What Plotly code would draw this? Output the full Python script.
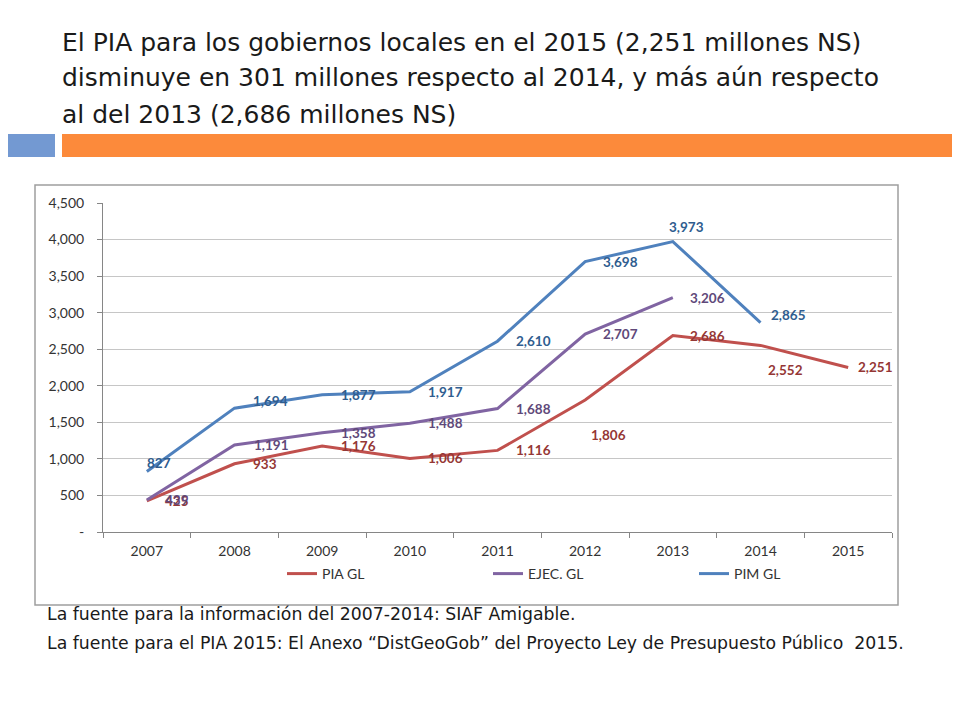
import plotly.graph_objects as go

# data
years = ['2007', '2008', '2009', '2010', '2011', '2012', '2013', '2014', '2015']
pia_gl = [425, 933, 1176, 1006, 1116, 1806, 2686, 2552, 2251]
ejec_gl = [439, 1191, 1358, 1488, 1688, 2707, 3206, None, None]
pim_gl = [827, 1694, 1877, 1917, 2610, 3698, 3973, 2865, None]
y_ticks = [0, 500, 1000, 1500, 2000, 2500, 3000, 3500, 4000, 4500]
y_tick_text = ['-', '500', '1,000', '1,500', '2,000', '2,500', '3,000', '3,500', '4,000', '4,500']

title_lines = [
    'El PIA para los gobiernos locales en el 2015 (2,251 millones NS)',
    'disminuye en 301 millones respecto al 2014, y más aún respecto',
    'al del 2013 (2,686 millones NS)',
]
notes = [
    'La fuente para la información del 2007-2014: SIAF Amigable.',
    'La fuente para el PIA 2015: El Anexo “DistGeoGob” del Proyecto Ley de Presupuesto Público  2015.',
]

# the page puts the figure 8px in from the top-left corner
OFF = 8
W, H = 960 - OFF, 720 - OFF
L, R, T, B = 103 - OFF, 892 - OFF, 203 - OFF, 532 - OFF   # plot area in figure pixels


def px(x):
    # screen x -> paper coordinate
    return (x - OFF - L) / (R - L)


def py(y):
    return (B - (y - OFF)) / (B - T)


# label nudges (xshift, yshift) in pixels, like the hand-placed Excel labels
pia_nudge = [(30, 0), (30, 0), (36, 0), (36, 0), (36, 0), (23, -35), (35, 0), (25, -25), (27, 0)]
ejec_nudge = [(30, 0), (36, 0), (36, 0), (36, 0), (36, 0), (35, 0), (35, 0), None, None]
pim_nudge = [(12, 9), (36, 7), (36, 0), (36, 0), (36, 0), (35, 0), (14, 15), (28, 8), None]

series = [
    ('PIA GL', pia_gl, '#C0504D', '#953735', pia_nudge),
    ('EJEC. GL', ejec_gl, '#8064A2', '#5F497A', ejec_nudge),
    ('PIM GL', pim_gl, '#4F81BD', '#2F5D8F', pim_nudge),
]

fig = go.Figure()
annotations = []
for name, vals, color, lab_color, nudge in series:
    fig.add_trace(go.Scatter(x=years, y=vals, name=name, mode='lines',
                             line=dict(color=color, width=3)))
for name, vals, color, lab_color, nudge in series:
    for i, (v, nd) in enumerate(zip(vals, nudge)):
        if v is None:
            continue
        # category index as x so the label sits on its year
        annotations.append(dict(x=i, y=v, text=f'{v:,}', showarrow=False,
                                xshift=nd[0], yshift=nd[1],
                                font=dict(family='Lato', size=13.5, color=lab_color, weight='bold')))

for i, line in enumerate(title_lines):
    annotations.append(dict(xref='paper', yref='paper', x=px(60), y=py(42 + 36 * i),
                            xanchor='left', yanchor='middle', showarrow=False, text=line,
                            font=dict(family='DejaVu Sans', size=25, color='#1a1a1a')))
for i, line in enumerate(notes):
    annotations.append(dict(xref='paper', yref='paper', x=px(45), y=py(614 + 29 * i),
                            xanchor='left', yanchor='middle', showarrow=False, text=line,
                            font=dict(family='DejaVu Sans', size=17.3, color='#1a1a1a')))

shapes = [
    dict(type='rect', xref='paper', yref='paper', x0=px(OFF), x1=px(55), y0=py(134), y1=py(157),
         fillcolor='#7399D2', line=dict(width=0), layer='below'),
    dict(type='rect', xref='paper', yref='paper', x0=px(62), x1=px(960), y0=py(134), y1=py(157),
         fillcolor='#FC8A3B', line=dict(width=0), layer='below'),
    dict(type='rect', xref='paper', yref='paper', x0=px(35), x1=px(898), y0=py(185), y1=py(605),
         fillcolor='rgba(0,0,0,0)', line=dict(color='#9E9E9E', width=1.5), layer='below'),
]

fig.update_layout(
    width=W, height=H,
    margin=dict(l=L, r=W - R, t=T, b=H - B, pad=0),
    paper_bgcolor='white', plot_bgcolor='white',
    font=dict(family='Lato', size=14, color='#333333'),
    showlegend=True,
    legend=dict(orientation='h', x=px(282), y=py(574), xanchor='left', yanchor='middle',
                bgcolor='rgba(0,0,0,0)', entrywidth=161, entrywidthmode='pixels',
                font=dict(size=14, color='#333333')),
    annotations=annotations,
    shapes=shapes,
)
fig.update_xaxes(type='category', range=[-0.5, 8.5], tickson='boundaries', ticks='outside',
                 ticklen=5, tickcolor='#868686', showline=True, linecolor='#868686',
                 showgrid=False, tickfont=dict(size=14), ticklabelstandoff=6)
fig.update_yaxes(range=[0, 4500], tickvals=y_ticks, ticktext=y_tick_text, ticks='outside',
                 ticklen=5, tickcolor='#868686', showline=True, linecolor='#868686',
                 gridcolor='#C6C6C6', zeroline=False, tickfont=dict(size=14), ticklabelstandoff=10)

fig.write_html('out.html')
